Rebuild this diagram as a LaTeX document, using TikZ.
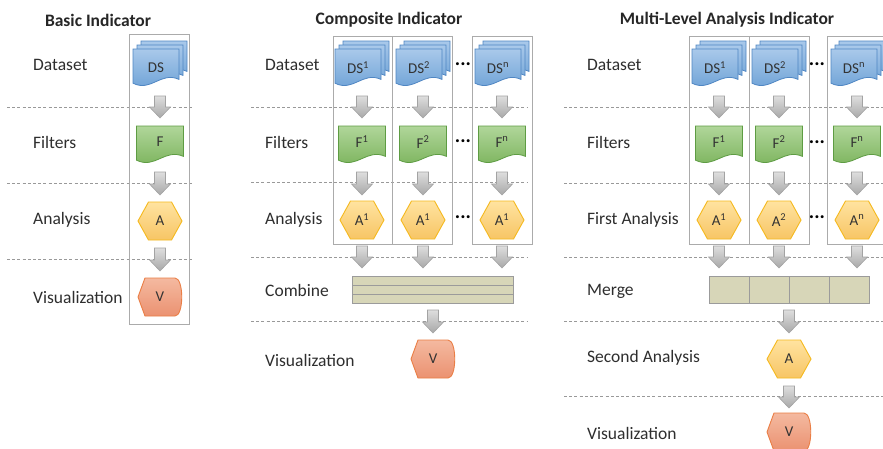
\documentclass[tikz,border=0pt]{standalone}
\usepackage{fontspec}
\setmainfont{Carlito}
\definecolor{txt}{HTML}{2E2E2E}
\definecolor{dsfillA}{HTML}{A9C9EA}
\definecolor{dsfillB}{HTML}{6A9FD5}
\definecolor{dsline}{HTML}{4F86C3}
\definecolor{ffillA}{HTML}{B0D69A}
\definecolor{ffillB}{HTML}{78B158}
\definecolor{fline}{HTML}{5E9C43}
\definecolor{afillA}{HTML}{FFE3A0}
\definecolor{afillB}{HTML}{F7C565}
\definecolor{aline}{HTML}{F5B91E}
\definecolor{vfillA}{HTML}{F4B9A0}
\definecolor{vfillB}{HTML}{EB9271}
\definecolor{vline}{HTML}{EA7E45}
\definecolor{arA}{HTML}{DEDEDE}
\definecolor{arB}{HTML}{A8A8A8}
\definecolor{arline}{HTML}{A3A3A3}
\definecolor{cfill}{HTML}{D7D6B8}
\definecolor{cline}{HTML}{9B9B9B}
\definecolor{boxline}{HTML}{ABABAB}
\tikzset{
  lbl/.style={anchor=west,inner sep=0pt,text=txt,font=\fontsize{17.5}{20}\selectfont},
  ttl/.style={text=black!85,font=\fontsize{17.5}{20}\selectfont\bfseries},
  intxt/.style={text=black!80,font=\fontsize{15}{16}\selectfont},
  dots/.style={text=black,font=\fontsize{20}{20}\selectfont\bfseries},
  sep/.style={draw=black!40,dash pattern=on 3pt off 2.2pt,line width=0.8pt},
  colbox/.style={draw=boxline,line width=1pt},
  dsshape/.style={top color=dsfillA,bottom color=dsfillB,draw=dsline,line width=0.8pt},
  fshape/.style={top color=ffillA,bottom color=ffillB,draw=fline,line width=0.8pt},
  ashape/.style={top color=afillA,bottom color=afillB,draw=aline,line width=0.9pt},
  vshape/.style={top color=vfillA,bottom color=vfillB,draw=vline,line width=0.9pt},
  blockarr/.style={top color=arA,bottom color=arB,draw=arline,line width=0.6pt},
  combox/.style={fill=cfill,draw=cline,line width=0.9pt},
}
% document path: top-left x0,y0, width w, height h (y downward)
\newcommand{\DocPath}[4]{(#1,#2) -- ({#1+#3},#2) -- ({#1+#3},{#2+0.8*#4}) .. controls ({#1+0.6*#3},{#2+0.58*#4}) and ({#1+0.4*#3},{#2+1.14*#4}) .. (#1,{#2+0.9*#4}) -- cycle}
% stack of datasets centred at column cx, name, text
\newcommand{\DSStack}[3]{%
  \shadedraw[dsshape] \DocPath{#1-19}{41}{46}{38};
  \shadedraw[dsshape] \DocPath{#1-23}{45}{46}{38};
  \shadedraw[dsshape] \DocPath{#1-27}{49}{46}{38};
  \node[intxt] (#2) at (#1-4,68) {#3};}
\newcommand{\FDoc}[3]{%
  \shadedraw[fshape] \DocPath{#1-23.5}{126}{47}{38};
  \node[intxt] (#2) at (#1,142) {#3};}
\newcommand{\HexA}[4]{% cx, cy, name, text
  \shadedraw[ashape] (#1-22,#2) -- (#1-11.5,#2-19) -- (#1+11.5,#2-19) -- (#1+22,#2) -- (#1+11.5,#2+19) -- (#1-11.5,#2+19) -- cycle;
  \node[intxt] (#3) at (#1,#2) {#4};}
\newcommand{\DispV}[4]{% cx, cy, name, text
  \shadedraw[vshape] (#1-22,#2) -- (#1-15,#2-19) -- (#1+15,#2-19) .. controls (#1+24,#2-19) and (#1+24,#2+19) .. (#1+15,#2+19) -- (#1-15,#2+19) -- cycle;
  \node[intxt] (#3) at (#1,#2) {#4};}
\newcommand{\BArrow}[3]{% cx, ytop, ybot
  \shadedraw[blockarr] (#1-5.5,#2) -- (#1+5.5,#2) -- (#1+5.5,#3-11) -- (#1+10.5,#3-11) -- (#1,#3) -- (#1-10.5,#3-11) -- (#1-5.5,#3-11) -- cycle;}
\begin{document}
\begin{tikzpicture}[x=1pt,y=-1pt]
\useasboundingbox (0,0) rectangle (883,448);
\fill[white] (0,0) rectangle (883,448);

% ---------------- separators ----------------
\foreach \yy in {107,183,259} \draw[sep] (7,\yy) -- (192,\yy);
\foreach \yy in {107,182,257,321} \draw[sep] (251,\yy) -- (527,\yy);
\foreach \yy in {107,183,257,321,396} \draw[sep] (564,\yy) -- (883,\yy);

% ---------------- titles ----------------
\node[ttl] (t1) at (98,20) {Basic Indicator};
\node[ttl] (t2) at (389,20) {Composite Indicator};
\node[ttl] (t3) at (727,20) {Multi-Level Analysis Indicator};

% ---------------- Basic ----------------
\node[lbl] (b1) at (33,65) {Dataset};
\node[lbl] (b2) at (33,142) {Filters};
\node[lbl] (b3) at (33,220) {Analysis};
\node[lbl] (b4) at (33,297) {Visualization};
\draw[colbox] (129,34) rectangle (189,324);
\DSStack{160}{bds}{DS}
\BArrow{160}{96}{118}
\FDoc{160}{bf}{F}
\BArrow{160}{172}{195}
\HexA{160}{221}{ba}{A}
\BArrow{160}{248}{271}
\DispV{160}{297}{bv}{V}

% ---------------- Composite ----------------
\node[lbl] (c1) at (265,65) {Dataset};
\node[lbl] (c2) at (265,142) {Filters};
\node[lbl] (c3) at (265,220) {Analysis};
\node[lbl] (c4) at (265,290) {Combine};
\node[lbl] (c5) at (265,360) {Visualization};
\draw[colbox] (333,36) rectangle (392,244);
\draw[colbox] (392,36) rectangle (452,244);
\draw[colbox] (472,36) rectangle (532,244);
\DSStack{362}{cds1}{DS\textsuperscript{1}}
\DSStack{423}{cds2}{DS\textsuperscript{2}}
\DSStack{502}{cds3}{DS\textsuperscript{n}}
\foreach \cx in {362,423,502} {\BArrow{\cx}{96}{118} \BArrow{\cx}{172}{195} \BArrow{\cx}{246}{268}}
\FDoc{362}{cf1}{F\textsuperscript{1}}
\FDoc{423}{cf2}{F\textsuperscript{2}}
\FDoc{502}{cf3}{F\textsuperscript{n}}
\HexA{362}{220}{ca1}{A\textsuperscript{1}}
\HexA{423}{220}{ca2}{A\textsuperscript{1}}
\HexA{502}{220}{ca3}{A\textsuperscript{1}}
\node[dots] (cd1) at (463,64) {...};
\node[dots] (cd2) at (463,141) {...};
\node[dots] (cd3) at (463,217) {...};
\draw[combox] (352,276) rectangle (513,303);
\draw[cline,line width=0.9pt] (352,285) -- (513,285) (352,294) -- (513,294);
\BArrow{433}{310}{333}
\DispV{433}{359}{cv}{V}

% ---------------- Multi-level ----------------
\node[lbl] (m1) at (587,65) {Dataset};
\node[lbl] (m2) at (587,142) {Filters};
\node[lbl] (m3) at (587,220) {First Analysis};
\node[lbl] (m4) at (587,291) {Merge};
\node[lbl] (m5) at (587,358) {Second Analysis};
\node[lbl] (m6) at (587,433) {Visualization};
\draw[colbox] (689,36) rectangle (749,244);
\draw[colbox] (749,36) rectangle (809,244);
\draw[colbox] (827,36) rectangle (890,244);
\DSStack{719}{mds1}{DS\textsuperscript{1}}
\DSStack{779}{mds2}{DS\textsuperscript{2}}
\DSStack{858}{mds3}{DS\textsuperscript{n}}
\foreach \cx in {719,779,857} {\BArrow{\cx}{96}{118} \BArrow{\cx}{172}{195} \BArrow{\cx}{246}{268}}
\FDoc{719}{mf1}{F\textsuperscript{1}}
\FDoc{779}{mf2}{F\textsuperscript{2}}
\FDoc{857}{mf3}{F\textsuperscript{n}}
\HexA{719}{220}{ma1}{A\textsuperscript{1}}
\HexA{779}{220}{ma2}{A\textsuperscript{2}}
\HexA{857}{220}{ma3}{A\textsuperscript{n}}
\node[dots] (md1) at (817,64) {...};
\node[dots] (md2) at (817,142) {...};
\node[dots] (md3) at (817,217) {...};
\draw[combox] (709,276) rectangle (869,303);
\draw[cline,line width=0.9pt] (749,276) -- (749,303) (789,276) -- (789,303) (829,276) -- (829,303);
\BArrow{789}{310}{333}
\HexA{789}{359}{msa}{A}
\BArrow{789}{386}{408}
\DispV{789}{432}{mv}{V}
\end{tikzpicture}
\end{document}
